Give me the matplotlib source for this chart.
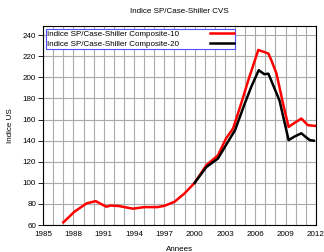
import numpy as np
import matplotlib.pyplot as plt
from matplotlib.ticker import MultipleLocator

plt.rcParams['font.family'] = ['Liberation Sans', 'DejaVu Sans']

# Indice SP/Case-Shiller Composite-10 (lecture approximative du graphique)
years_10 = [1987.0, 1988.1, 1989.3, 1990.2, 1991.25, 1991.7, 1992.5, 1993.9, 1995.0,
            1996.3, 1997.0, 1998.0, 1999.0, 2000.0, 2001.16, 2002.3, 2003.1, 2003.8,
            2004.6, 2005.3, 2006.3, 2007.3, 2007.6, 2008.1, 2008.75, 2009.3, 2009.75,
            2010.56, 2011.2, 2011.9]
comp_10 = [62.5, 72.6, 80.5, 82.7, 77.4, 78.5, 78.0, 75.5, 77.0,
           77.0, 78.2, 82.0, 90.0, 100.0, 116.8, 126.0, 142.0, 151.5,
           175.0, 197.0, 226.0, 222.6, 216.0, 203.6, 175.0, 153.0, 156.0,
           161.0, 154.7, 154.0]

# Indice SP/Case-Shiller Composite-20
years_20 = [2000.0, 2001.16, 2002.3, 2003.3, 2004.0, 2004.95, 2005.6, 2006.34,
            2006.9, 2007.3, 2008.4, 2009.3, 2009.9, 2010.56, 2011.06, 2011.4, 2011.8]
comp_20 = [100.0, 115.0, 123.0, 139.0, 150.0, 175.0, 191.0, 206.8,
           203.0, 203.5, 178.0, 140.5, 144.0, 147.0, 143.0, 140.5, 140.0]

FS = 5.8

fig = plt.figure(figsize=(3.24, 2.52), dpi=100)
ax = fig.add_axes([0.133, 0.107, 0.842, 0.791])

ax.plot(years_10, comp_10, color='#ff0000', lw=1.8,
        label='Indice SP/Case-Shiller Composite-10')
ax.plot(years_20, comp_20, color='black', lw=1.8,
        label='Indice SP/Case-Shiller Composite-20')

ax.set_xlim(1985, 2012)
ax.set_ylim(60, 249)
ax.set_xticks(range(1985, 2013, 3))
ax.xaxis.set_minor_locator(MultipleLocator(1))
ax.set_yticks(range(60, 241, 20))
ax.grid(True, which='both', axis='x', color='#aaaaaa', lw=0.8)
ax.grid(True, which='major', axis='y', color='#aaaaaa', lw=0.8)
ax.tick_params(axis='x', which='both', direction='in', labelsize=FS, length=0, pad=4)
ax.tick_params(axis='y', direction='out', labelsize=FS, length=3.5, width=0.6, pad=1.5)
for s in ax.spines.values():
    s.set_linewidth(0.8)

ax.set_title('Indice SP/Case-Shiller CVS', fontsize=FS, pad=9)
ax.set_xlabel('Annees', fontsize=FS, labelpad=6)
ax.set_ylabel('Indice US', fontsize=FS, labelpad=6)

leg = ax.legend(loc='upper left', bbox_to_anchor=(0.011, 0.982), borderaxespad=0,
                fontsize=FS, markerfirst=False, handlelength=3.0,
                borderpad=0.15, labelspacing=0.3, handletextpad=3.8,
                fancybox=False, framealpha=1.0)
leg.get_frame().set_edgecolor('#5050ff')
leg.get_frame().set_linewidth(0.8)

fig.savefig('out.png', dpi=100)
